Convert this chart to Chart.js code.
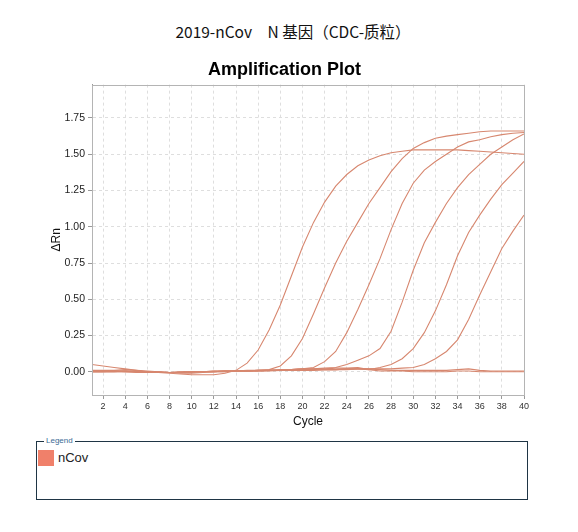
<!DOCTYPE html>
<html>
<head>
<meta charset="utf-8">
<script src="https://cdn.jsdelivr.net/npm/chart.js@4.4.0/dist/chart.umd.min.js"></script>
<style>
  body { margin: 0; background: #fff; width: 578px; height: 532px; position: relative; overflow: hidden; font-family: "Liberation Sans", Arial, sans-serif; }
  #heading { position: absolute; left: 4px; top: 21px; width: 578px; text-align: center; font: 15.5px/20px "Noto Sans CJK SC", sans-serif; color: #111; }
  #wrap { position: absolute; left: 0; top: 45px; width: 578px; height: 390px; }
  #legendBox { position: absolute; left: 36px; top: 441px; width: 492px; height: 59px; box-sizing: border-box; border: 1px solid #1f3545; }
  #legendLabel { position: absolute; left: 44px; top: 436px; font-size: 8px; line-height: 10px; color: #3a6a94; background: #fff; padding: 0 2px; }
  #swatch { position: absolute; left: 38px; top: 450px; width: 16px; height: 16px; background: #f0806a; }
  #swatchText { position: absolute; left: 58px; top: 450px; font-size: 13px; line-height: 16px; color: #222; }
</style>
</head>
<body>
<div id="heading">2019-nCov　N 基因（CDC-质粒）</div>
<div id="wrap"><canvas id="ampChart"></canvas></div>
<div id="legendBox"></div>
<div id="legendLabel">Legend</div>
<div id="swatch"></div>
<div id="swatchText">nCov</div>

<script>
'use strict';

// cycles 1..40
const cycles = [1, 2, 3, 4, 5, 6, 7, 8, 9, 10, 11, 12, 13, 14, 15, 16, 17, 18, 19, 20,
                21, 22, 23, 24, 25, 26, 27, 28, 29, 30, 31, 32, 33, 34, 35, 36, 37, 38, 39, 40];
const xTicks = [2, 4, 6, 8, 10, 12, 14, 16, 18, 20, 22, 24, 26, 28, 30, 32, 34, 36, 38, 40];
const yTicks = [0, 0.25, 0.5, 0.75, 1.0, 1.25, 1.5, 1.75];

// delta Rn, one array per well
const well1 = [0.05, 0.04, 0.03, 0.02, 0.01, 0.0, -0.005, -0.01, -0.015, -0.02,
               -0.02, -0.02, -0.01, 0.01, 0.06, 0.15, 0.29, 0.46, 0.66, 0.86,
               1.03, 1.17, 1.28, 1.36, 1.42, 1.46, 1.49, 1.51, 1.52, 1.53,
               1.53, 1.53, 1.53, 1.53, 1.525, 1.52, 1.515, 1.51, 1.505, 1.50];
const well2 = [0.005, 0.005, 0.005, 0.005, 0.0, 0.0, -0.005, -0.005, -0.005, 0.0,
               0.0, 0.005, 0.005, 0.005, 0.005, 0.01, 0.015, 0.04, 0.11, 0.23,
               0.40, 0.58, 0.75, 0.90, 1.03, 1.16, 1.27, 1.38, 1.47, 1.54,
               1.58, 1.61, 1.625, 1.635, 1.645, 1.655, 1.66, 1.66, 1.66, 1.66];
const well3 = [0.0, 0.0, 0.0, 0.005, 0.005, 0.0, 0.0, -0.005, -0.005, 0.0,
               0.0, 0.0, 0.005, 0.005, 0.005, 0.01, 0.01, 0.01, 0.015, 0.02,
               0.03, 0.07, 0.14, 0.27, 0.43, 0.60, 0.78, 0.98, 1.16, 1.30,
               1.39, 1.45, 1.50, 1.55, 1.585, 1.60, 1.62, 1.635, 1.645, 1.65];
const well4 = [0.0, 0.0, 0.005, 0.005, 0.0, 0.0, -0.005, -0.005, 0.0, 0.0,
               0.0, 0.005, 0.005, 0.005, 0.01, 0.01, 0.01, 0.015, 0.015, 0.02,
               0.02, 0.025, 0.03, 0.05, 0.08, 0.11, 0.16, 0.28, 0.48, 0.70,
               0.89, 1.03, 1.16, 1.27, 1.36, 1.43, 1.50, 1.55, 1.60, 1.64];
const well5 = [0.005, 0.005, 0.005, 0.0, 0.0, 0.0, -0.005, -0.005, -0.005, 0.0,
               0.0, 0.0, 0.005, 0.005, 0.005, 0.005, 0.01, 0.01, 0.01, 0.01,
               0.015, 0.015, 0.015, 0.02, 0.02, 0.015, 0.03, 0.05, 0.09, 0.16,
               0.27, 0.42, 0.60, 0.80, 0.96, 1.08, 1.19, 1.29, 1.37, 1.45];
const well6 = [0.0, 0.0, 0.0, 0.0, 0.0, -0.005, -0.005, -0.005, 0.0, 0.0,
               0.0, 0.0, 0.0, 0.005, 0.005, 0.005, 0.005, 0.01, 0.01, 0.01,
               0.01, 0.015, 0.015, 0.015, 0.02, 0.02, 0.02, 0.02, 0.025, 0.03,
               0.05, 0.09, 0.14, 0.22, 0.36, 0.53, 0.69, 0.85, 0.97, 1.08];
const ntc1 = [0.01, 0.01, 0.01, 0.015, 0.01, 0.005, 0.0, -0.005, -0.005, -0.005,
              0.0, 0.0, 0.005, 0.005, 0.005, 0.01, 0.01, 0.01, 0.015, 0.02,
              0.02, 0.02, 0.025, 0.025, 0.03, 0.015, 0.005, 0.005, 0.005, 0.0,
              0.0, 0.0, 0.0, 0.005, 0.005, 0.0, 0.0, 0.0, 0.0, 0.0];
const ntc2 = [0.0, 0.0, 0.0, 0.0, -0.005, -0.005, 0.0, -0.005, -0.01, -0.01,
              -0.005, 0.0, 0.0, 0.005, 0.005, 0.005, 0.01, 0.01, 0.01, 0.015,
              0.015, 0.015, 0.015, 0.02, 0.02, 0.02, 0.015, 0.01, 0.01, 0.01,
              0.01, 0.01, 0.01, 0.015, 0.02, 0.01, 0.005, 0.005, 0.005, 0.005];

const wells = [well1, well2, well3, well4, well5, well6, ntc1, ntc2];
const lineColor = '#d7876f';

// grey box round the plot area
const frame = {
    id: 'frame',
    afterDraw(chart) {
        const a = chart.chartArea;
        const c = chart.ctx;
        c.save();
        c.strokeStyle = '#b4b4b4';
        c.lineWidth = 1;
        c.strokeRect(Math.round(a.left) + 0.5, Math.round(a.top) + 0.5,
                     Math.round(a.right - a.left), Math.round(a.bottom - a.top));
        c.restore();
    }
};

const ctx = document.getElementById('ampChart').getContext('2d');
new Chart(ctx, {
    type: 'line',
    data: {
        labels: cycles,
        datasets: wells.map((w, i) => ({
            label: 'nCov ' + (i + 1),
            data: w.map((v, j) => ({x: cycles[j], y: v})),
            borderColor: lineColor,
            borderWidth: 1.1,
            pointRadius: 0,
            tension: 0,
            fill: false
        }))
    },
    options: {
        responsive: true,
        maintainAspectRatio: false,
        animation: false,
        layout: {padding: {left: 45, right: 54, top: 0, bottom: 2}},
        plugins: {
            legend: {display: false},
            tooltip: {enabled: false},
            title: {
                display: true,
                text: 'Amplification Plot',
                color: '#000',
                font: {family: '"Liberation Sans", Arial', size: 18, weight: 'bold'},
                padding: {top: 14, bottom: 4}
            }
        },
        scales: {
            x: {
                type: 'linear',
                min: 1,
                max: 40,
                afterBuildTicks: s => { s.ticks = xTicks.map(v => ({value: v})); },
                afterFit: s => { s.height = 38; },
                grid: {color: '#dedede', tickLength: 4, tickColor: '#999', tickBorderDash: []},
                border: {color: '#999', dash: [3, 3]},
                ticks: {color: '#333', padding: 2, maxRotation: 0, autoSkip: false,
                        font: {family: '"Liberation Sans", Arial', size: 9}},
                title: {display: true, text: 'Cycle', color: '#111',
                        font: {family: '"Liberation Sans", Arial', size: 12}}
            },
            y: {
                min: -0.16,
                max: 1.98,
                afterBuildTicks: s => { s.ticks = yTicks.map(v => ({value: v})); },
                afterFit: s => { s.width = 47; },
                grid: {color: '#dedede', tickLength: 4, tickColor: '#999', tickBorderDash: []},
                border: {color: '#999', dash: [3, 3]},
                ticks: {color: '#222', padding: 3,
                        callback: v => v.toFixed(2),
                        font: {family: '"Liberation Sans", Arial', size: 10.5}},
                title: {display: true, text: 'ΔRn', color: '#111',
                        font: {family: '"Liberation Sans", Arial', size: 12}}
            }
        }
    },
    plugins: [frame]
});
</script>
</body>
</html>
